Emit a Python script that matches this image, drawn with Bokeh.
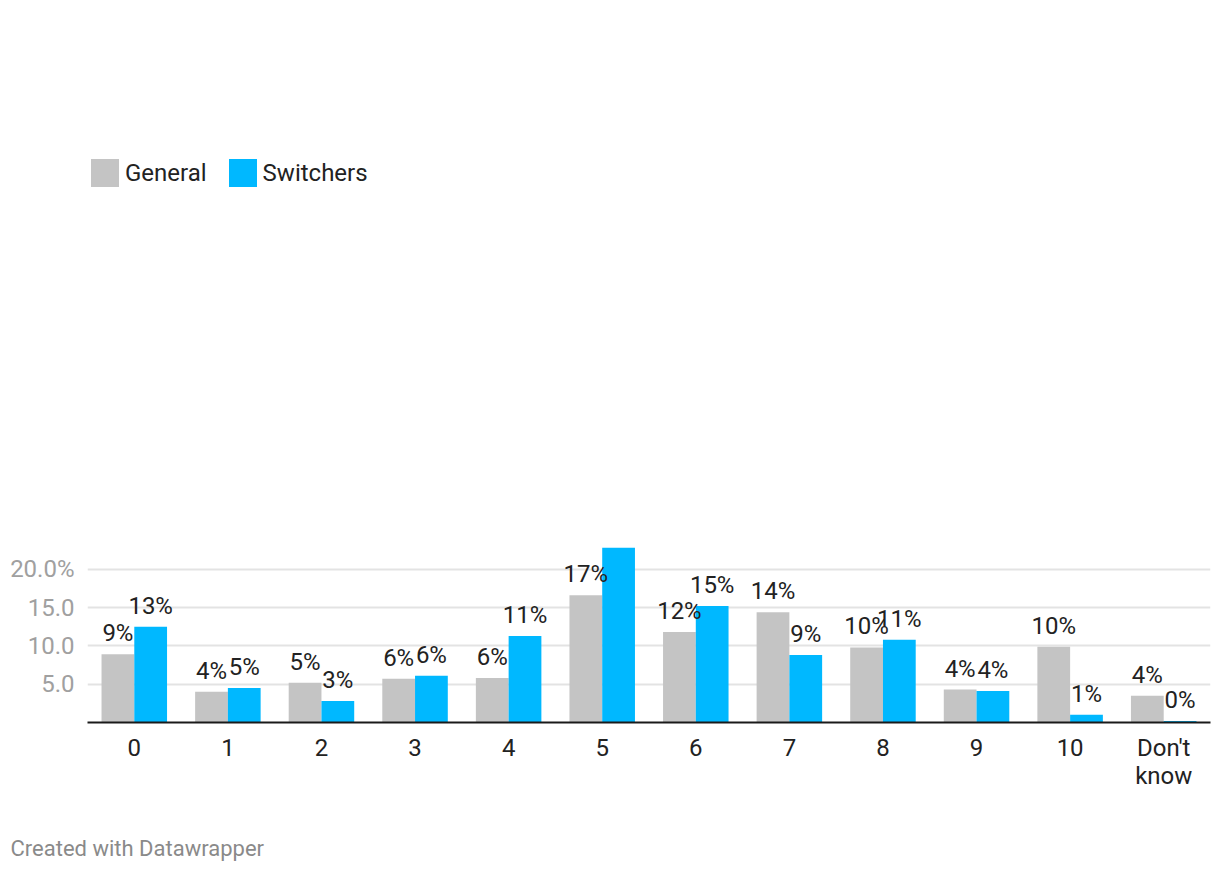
from bokeh.plotting import figure
from bokeh.models import ColumnDataSource, FactorRange, FixedTicker, Legend, LegendItem, Title
from bokeh.transform import dodge
from bokeh.core.properties import value
from bokeh.embed import file_html
from bokeh.resources import INLINE

categories = ["0", "1", "2", "3", "4", "5", "6", "7", "8", "9", "10", "Don't\nknow"]
general = [8.9, 4.0, 5.2, 5.7, 5.8, 16.6, 11.8, 14.4, 9.8, 4.3, 9.9, 3.5]
switchers = [12.5, 4.5, 2.8, 6.1, 11.3, 22.8, 15.2, 8.8, 10.8, 4.1, 1.0, 0.2]
general_labels = ["9%", "4%", "5%", "6%", "6%", "17%", "12%", "14%", "10%", "4%", "10%", "4%"]
switchers_labels = ["13%", "5%", "3%", "6%", "11%", "23%", "15%", "9%", "11%", "4%", "1%", "0%"]
series_names = ["General", "Switchers"]
y_ticks = [5, 10, 15, 20]
y_tick_labels = ["5.0", "10.0", "15.0", "20.0%"]

GRAY = "#c4c4c4"
BLUE = "#00b8ff"
FONT = "Roboto"
FS = "24px"

source = ColumnDataSource(dict(cat=categories, general=general, switchers=switchers,
                               gl=general_labels, sl=switchers_labels))

p = figure(width=1212, height=872, x_range=FactorRange(factors=categories, range_padding=0),
           y_range=(0, 24.41), output_backend="svg", toolbar_location=None,
           min_border_left=87, min_border_right=2, min_border_top=80, min_border_bottom=150)
p.outline_line_color = None
p.background_fill_color = "white"

r1 = p.vbar(x=dodge("cat", -0.175, range=p.x_range), top="general", width=0.35, source=source,
            fill_color=GRAY, line_color=None)
r2 = p.vbar(x=dodge("cat", 0.175, range=p.x_range), top="switchers", width=0.35, source=source,
            fill_color=BLUE, line_color=None)

p.text(x=dodge("cat", -0.175, range=p.x_range), y="general", text="gl", source=source,
       text_font=value(FONT), text_font_size=FS, text_color="#222222",
       text_align="center", text_baseline="alphabetic", y_offset=-21)
p.text(x=dodge("cat", 0.175, range=p.x_range), y="switchers", text="sl", source=source,
       text_font=value(FONT), text_font_size=FS, text_color="#222222",
       text_align="center", text_baseline="alphabetic", y_offset=-21)

p.xgrid.grid_line_color = None
p.ygrid.grid_line_color = "#e3e3e3"
p.ygrid.grid_line_width = 2
p.yaxis.ticker = FixedTicker(ticks=y_ticks)
p.yaxis.major_label_overrides = {t: l for t, l in zip(y_ticks, y_tick_labels)}
p.yaxis.axis_line_color = None
p.yaxis.major_tick_line_color = None
p.yaxis.major_tick_out = 0
p.yaxis.major_tick_in = 0
p.yaxis.minor_tick_line_color = None
p.yaxis.major_label_text_font = FONT
p.yaxis.major_label_text_font_size = FS
p.yaxis.major_label_text_color = "#a0a0a0"
p.yaxis.major_label_standoff = 13

p.xaxis.axis_line_color = "#1a1a1a"
p.xaxis.axis_line_width = 2
p.xaxis.major_tick_line_color = None
p.xaxis.major_tick_out = 0
p.xaxis.major_tick_in = 0
p.xaxis.minor_tick_line_color = None
p.xaxis.major_label_text_font = FONT
p.xaxis.major_label_text_font_size = FS
p.xaxis.major_label_text_color = "#222222"
p.xaxis.major_label_standoff = 11
p.xaxis.major_label_text_line_height = 1.0


def spacer(height):
    # blank title used only to reserve vertical room in a side panel
    return Title(text=" ", text_font_size="1px", standoff=height - 3)


# legend strip above the plot
p.add_layout(spacer(35), "above")
legend = Legend(items=[LegendItem(label=series_names[0], renderers=[r1]),
                       LegendItem(label=series_names[1], renderers=[r2])],
                location="top_left", orientation="horizontal",
                glyph_width=35, glyph_height=35, label_height=35, label_standoff=3,
                spacing=18, padding=0, margin=0, border_line_color=None,
                background_fill_alpha=0,
                label_text_font=FONT, label_text_font_size=FS, label_text_color="#222222")
p.add_layout(legend, "above")

# footer
p.add_layout(spacer(41), "below")
footer = Title(text="Created with Datawrapper", align="left", offset=-77,
               text_font=FONT, text_font_size="22px", text_color="#8a8a8a",
               text_font_style="normal", standoff=0)
p.add_layout(footer, "below")

open("out.html", "w").write(file_html(p, INLINE))
